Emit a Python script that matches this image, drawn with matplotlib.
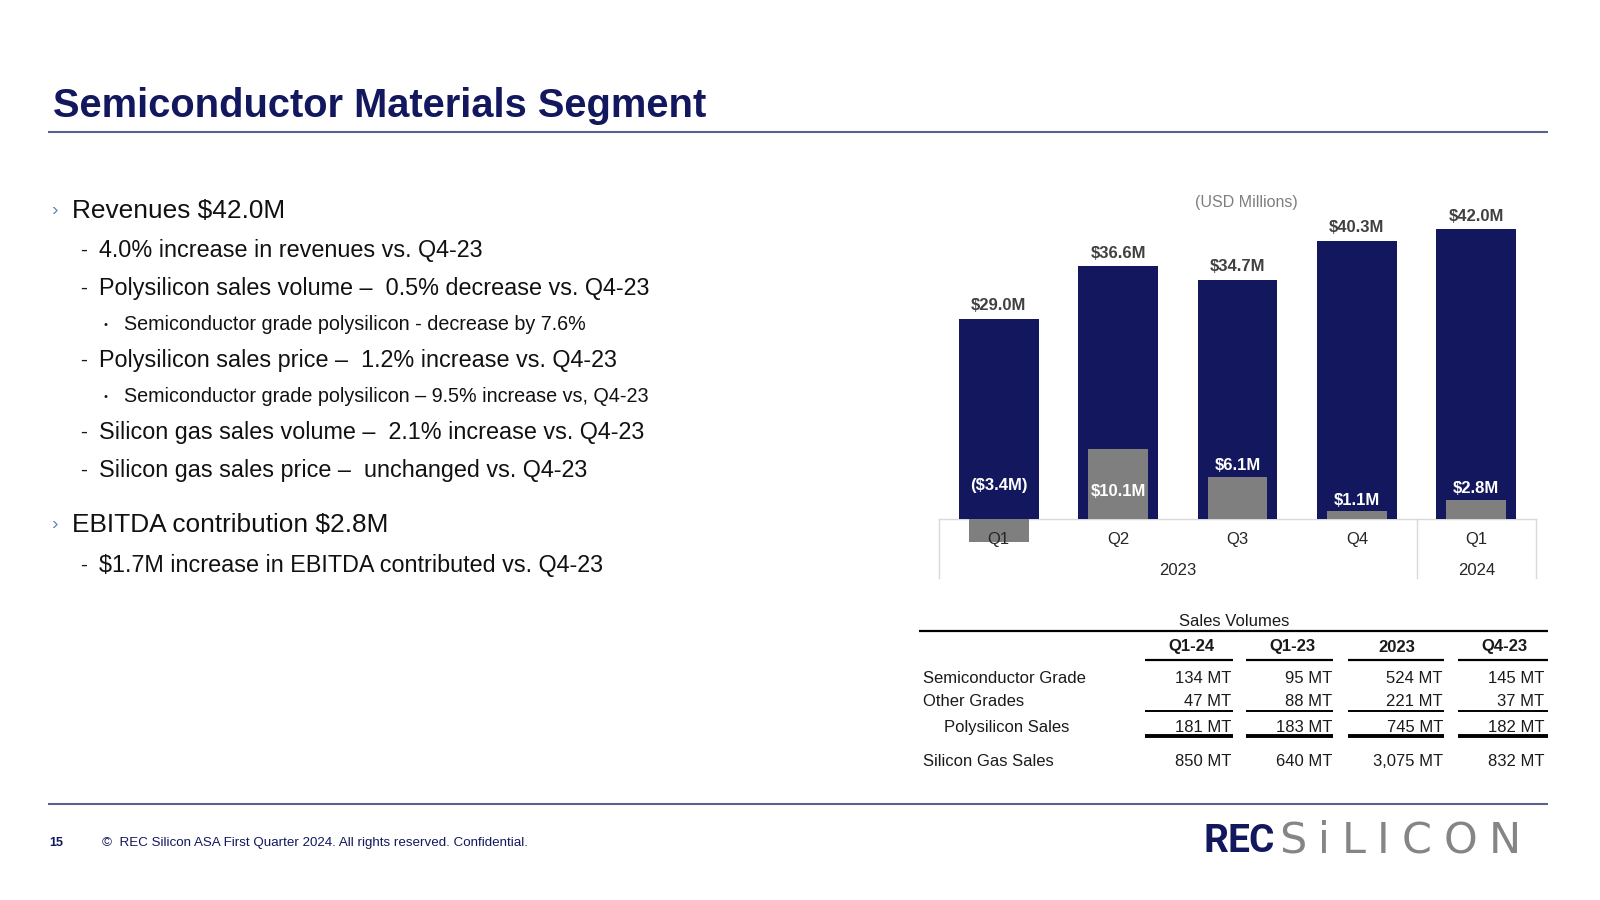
import numpy as np
import matplotlib.pyplot as plt
from matplotlib.lines import Line2D

plt.rcParams['font.family'] = ['Liberation Sans', 'DejaVu Sans']

# Datos del grafico
trimestres = ['Q1', 'Q2', 'Q3', 'Q4', 'Q1']
anios = ['2023', '2024']
anio_grupo = [0, 0, 0, 0, 1]
ingresos = [29.0, 36.6, 34.7, 40.3, 42.0]
ebitda = [-3.4, 10.1, 6.1, 1.1, 2.8]

# Datos de la tabla
columnas = ['Q1-24', 'Q1-23', '2023', 'Q4-23']
filas = ['Semiconductor Grade', 'Other Grades', 'Polysilicon Sales', 'Silicon Gas Sales']
vol_semi = ['134 MT', '95 MT', '524 MT', '145 MT']
vol_otros = ['47 MT', '88 MT', '221 MT', '37 MT']
vol_poly = ['181 MT', '183 MT', '745 MT', '182 MT']
vol_gas = ['850 MT', '640 MT', '3,075 MT', '832 MT']

# Texto de la izquierda (nivel, texto)
puntos = [
    (0, 'Revenues $42.0M'),
    (1, '4.0% increase in revenues vs. Q4-23'),
    (1, 'Polysilicon sales volume \u2013  0.5% decrease vs. Q4-23'),
    (2, 'Semiconductor grade polysilicon - decrease by 7.6%'),
    (1, 'Polysilicon sales price \u2013  1.2% increase vs. Q4-23'),
    (2, 'Semiconductor grade polysilicon \u2013 9.5% increase vs, Q4-23'),
    (1, 'Silicon gas sales volume \u2013  2.1% increase vs. Q4-23'),
    (1, 'Silicon gas sales price \u2013  unchanged vs. Q4-23'),
    (0, 'EBITDA contribution $2.8M'),
    (1, '$1.7M increase in EBITDA contributed vs. Q4-23'),
]

W, H = 1600, 900
NAVY = '#12175e'
GRIS = '#7f7f80'
LINEA = '#5c6090'

fig = plt.figure(figsize=(16, 9), dpi=100)


def fx(x):
    return x / W


def fy(y):
    return 1 - y / H


def txt(x, y, s, **kw):
    return fig.text(fx(x), fy(y), s, **kw)


def hline(x0, x1, y, lw, color='black'):
    fig.add_artist(Line2D([fx(x0), fx(x1)], [fy(y), fy(y)], lw=lw, color=color,
                          transform=fig.transFigure, solid_capstyle='butt'))


def espaciado(s, x0, x1, y, **kw):
    # letras repartidas entre x0 y x1 (logo)
    letras = [txt(0, y, ch, ha='left', va='center', **kw) for ch in s]
    r = fig.canvas.get_renderer()
    anchos = [t.get_window_extent(r).width for t in letras]
    hueco = (x1 - x0 - sum(anchos)) / (len(letras) - 1)
    xp = x0
    for t, w in zip(letras, anchos):
        t.set_x(fx(xp))
        xp += w + hueco


# Titulo y lineas
txt(53, 106, 'Semiconductor Materials Segment', fontsize=28.7, fontweight='bold',
    color=NAVY, va='center')
hline(48, 1548, 131.5, 1.5, LINEA)
hline(48, 1548, 804, 1.5, LINEA)

# Pie de pagina
txt(49, 843, '15', fontsize=9, fontweight='bold', color=NAVY, va='center')
txt(102, 843, '\u00a9  REC Silicon ASA First Quarter 2024. All rights reserved. Confidential.',
    fontsize=9.6, color=NAVY, va='center')
espaciado('REC', 1203, 1274, 841, fontsize=28, color=NAVY,
          family=['Roboto', 'DejaVu Sans'], fontweight='bold')
espaciado('SiLICON', 1279, 1521, 841, fontsize=31, color='#858585',
          family=['DejaVu Sans'], fontweight='normal')

# Vinetas
pos_y = [210.5, 250.5, 288.5, 325, 360.5, 396.5, 432.5, 470.5, 525, 565.5]
marca = {0: ('\u203a', 51, 72, 18.9, 14), 1: ('-', 80, 99, 16.8, 15),
         2: ('\u2022', 104, 123.5, 14.2, 8)}
for (nivel, s), y in zip(puntos, pos_y):
    m, xm, xt, fs, fm = marca[nivel]
    col_m = '#5b8bbe' if nivel == 0 else '#1a1a1a'
    txt(xm, y, m, fontsize=fm, color=col_m, va='center')
    txt(xt, y, s, fontsize=fs, color='#111111', va='center')

# Grafico de barras
px_unidad = 6.9
base = 519
ax = fig.add_axes([fx(939), fy(578), (1536 - 939) / W, (578 - 180) / H])
ax.set_xlim(-0.5, 4.5)
ax.set_ylim(-(578 - base) / px_unidad, (base - 180) / px_unidad)
ax.axis('off')

x = np.arange(len(trimestres))
ax.bar(x, ingresos, width=0.67, color=NAVY, zorder=2)
ax.bar(x, ebitda, width=0.5, color=GRIS, zorder=3)

for i, v in enumerate(ingresos):
    ax.text(i, v + 1.9, f'${v:.1f}M', ha='center', va='center', fontsize=12,
            fontweight='bold', color='#404040', zorder=5)
for i, v in enumerate(ebitda):
    etiqueta = f'(${-v:.1f}M)' if v < 0 else f'${v:.1f}M'
    if v < 0:
        yl = 4.8
    elif v > 8:
        yl = v * 0.4
    else:
        yl = v + 1.6
    ax.text(i, yl, etiqueta, ha='center', va='center', fontsize=12,
            fontweight='bold', color='white', zorder=5)

ymin = ax.get_ylim()[0]
caja = dict(color='#d9d9d9', lw=1, clip_on=False, zorder=1)
ax.plot([-0.5, 4.5], [0, 0], **caja)
for xv in [-0.5, 3.5, 4.5]:
    ax.plot([xv, xv], [ymin, 0], **caja)
for i, q in enumerate(trimestres):
    ax.text(i, -3.0, q, ha='center', va='center', fontsize=12, color='#262626', zorder=6)
for g, a in enumerate(anios):
    xs = [i for i in x if anio_grupo[i] == g]
    ax.text(np.mean(xs), -7.5, a, ha='center', va='center', fontsize=12, color='#262626')

txt(1246, 203, '(USD Millions)', fontsize=11.5, color=GRIS, ha='center', va='center')

# Tabla de volumenes
txt(1234, 622, 'Sales Volumes', fontsize=12, color='#1a1a1a', ha='center', va='center')
hline(919, 1548, 631, 1.6)
col_centro = [1191, 1292, 1397, 1504]
col_der = [1231, 1332, 1443, 1544]
col_tramo = [(1145, 1233), (1246, 1333), (1348, 1444), (1458, 1548)]
for c, xc in zip(columnas, col_centro):
    txt(xc, 647, c, fontsize=12, fontweight='bold', color='#1a1a1a', ha='center', va='center')
for a, b in col_tramo:
    hline(a, b, 660, 1.6)

fila_y = [678.5, 702, 727.5, 761]
fila_x = [923, 923, 944, 923]
for nombre, valores, y, xl in zip(filas, [vol_semi, vol_otros, vol_poly, vol_gas], fila_y, fila_x):
    txt(xl, y, nombre, fontsize=12, color='#1a1a1a', va='center')
    for v, xr in zip(valores, col_der):
        txt(xr, y, v, fontsize=12, color='#1a1a1a', ha='right', va='center')
for a, b in col_tramo:
    hline(a, b, 711, 1.4)
    hline(a, b, 736, 2.8)

fig.savefig('out.png', dpi=100)
